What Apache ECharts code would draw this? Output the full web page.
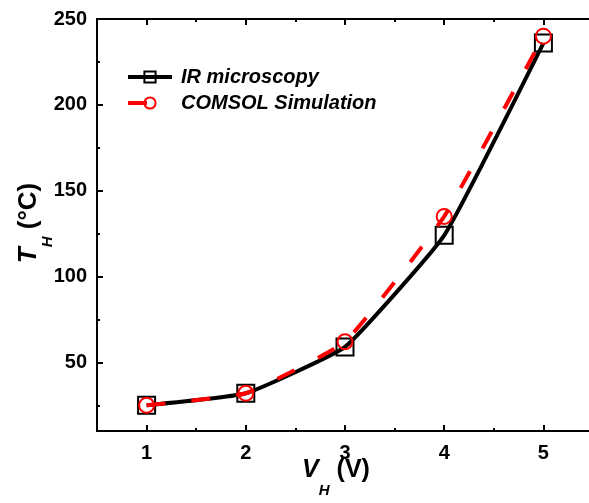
<!DOCTYPE html>
<html>
<head>
<meta charset="utf-8">
<script src="https://cdn.jsdelivr.net/npm/echarts@6/dist/echarts.min.js"></script>
<style>html,body{margin:0;padding:0;background:#fff}#c{width:589px;height:503px}</style>
</head>
<body>
<div id="c"></div>
<script>
const voltages = [1, 2, 3, 4, 5];
const irValues = [25, 32, 59, 124, 236];
const comsolValues = [25, 32, 62, 135, 240];
const xMajorTicks = [1, 2, 3, 4, 5];
const xMinorTicks = [1.5, 2.5, 3.5, 4.5];
const yMajorTicks = [50, 100, 150, 200, 250];
const yMinorTicks = [25, 75, 125, 175, 225];
const seriesNames = ['IR microscopy', 'COMSOL Simulation'];

const FONT = '"Liberation Sans", Arial, sans-serif';
const chart = echarts.init(document.getElementById('c'), null, {renderer: 'canvas'});

const axisLine = {show: true, lineStyle: {color: '#000', width: 2}};
function titleRich(size, lh) {
  return {
    i: {fontSize: size, fontStyle: 'italic', fontWeight: 'bold', fontFamily: FONT, color: '#000', lineHeight: lh, verticalAlign: 'top'},
    s: {fontSize: 15, fontStyle: 'italic', fontWeight: 'bold', fontFamily: FONT, color: '#000', lineHeight: 15, verticalAlign: 'bottom'},
    n: {fontSize: size, fontWeight: 'bold', fontFamily: FONT, color: '#000', lineHeight: lh, verticalAlign: 'top'}
  };
}
function xAx(pos, ticks, len, labels, name) {
  return {
    type: 'value', position: pos, min: 0.5, max: 5.5,
    axisLine: axisLine,
    axisTick: {show: true, inside: true, length: len, customValues: ticks, lineStyle: {color: '#000', width: 2}},
    axisLabel: labels ? {show: true, customValues: ticks, color: '#000', fontFamily: FONT, fontWeight: 'bold', fontSize: 20, margin: 12} : {show: false},
    splitLine: {show: false},
    name: name || '',
    nameLocation: 'middle', nameGap: 27, nameMoveOverlap: false,
    nameTextStyle: name ? {color: '#000', fontFamily: FONT, fontWeight: 'bold', padding: [0, 18, 0, 0], rich: titleRich(25, 40)} : {}
  };
}
function yAx(ticks, len, labels, name) {
  return {
    type: 'value', position: 'left', min: 10, max: 250,
    axisLine: axisLine,
    axisTick: {show: true, inside: true, length: len, customValues: ticks, lineStyle: {color: '#000', width: 2}},
    axisLabel: labels ? {show: true, customValues: ticks, color: '#000', fontFamily: FONT, fontWeight: 'bold', fontSize: 20, margin: 10} : {show: false},
    splitLine: {show: false},
    name: name || '',
    nameLocation: 'middle', nameGap: 42, nameRotate: 90, nameMoveOverlap: false,
    nameTextStyle: name ? {color: '#000', fontFamily: FONT, fontWeight: 'bold', padding: [0, 0, 0, 4], rich: titleRich(26, 39)} : {}
  };
}

const option = {
  animation: false,
  backgroundColor: '#fff',
  grid: {left: 97, top: 19, right: -4, bottom: 72, containLabel: false, outerBoundsMode: 'none'},
  xAxis: [
    xAx('bottom', xMajorTicks, 6, true, '{i|V}{s|H}{n| (V)}'),
    xAx('bottom', xMinorTicks, 3, false),
    xAx('top', xMajorTicks, 6, false),
    xAx('top', xMinorTicks, 3, false)
  ],
  yAxis: [
    yAx(yMajorTicks, 6, true, '{i|T}{s|H}{n| (°C)}'),
    yAx(yMinorTicks, 3, false)
  ],
  legend: {
    orient: 'vertical', left: 126, top: 67, padding: 0, itemWidth: 44, itemHeight: 14, itemGap: 6,
    textStyle: {color: '#000', fontFamily: FONT, fontWeight: 'bold', fontStyle: 'italic', fontSize: 20, padding: [0, 0, 0, 4]},
    data: [
      {name: seriesNames[0], lineStyle: {width: 4}},
      {name: seriesNames[1], lineStyle: {width: 4}}
    ]
  },
  series: [
    {
      name: seriesNames[0], type: 'line', xAxisIndex: 0, yAxisIndex: 0,
      data: voltages.map((v, i) => [v, irValues[i]]),
      smooth: 0.12,
      symbol: 'rect', symbolSize: 17,
      lineStyle: {color: '#000', width: 4},
      itemStyle: {color: 'rgba(0,0,0,0)', borderColor: '#000', borderWidth: 2},
      z: 2
    },
    {
      name: seriesNames[1], type: 'line', xAxisIndex: 0, yAxisIndex: 0,
      data: voltages.map((v, i) => [v, comsolValues[i]]),
      smooth: 0.12,
      symbol: 'circle', symbolSize: 15,
      lineStyle: {color: '#ff0000', width: 4, type: [19, 26]},
      itemStyle: {color: 'rgba(255,255,255,0)', borderColor: '#ff0000', borderWidth: 2},
      z: 3
    }
  ]
};
chart.setOption(option);
</script>
</body>
</html>
